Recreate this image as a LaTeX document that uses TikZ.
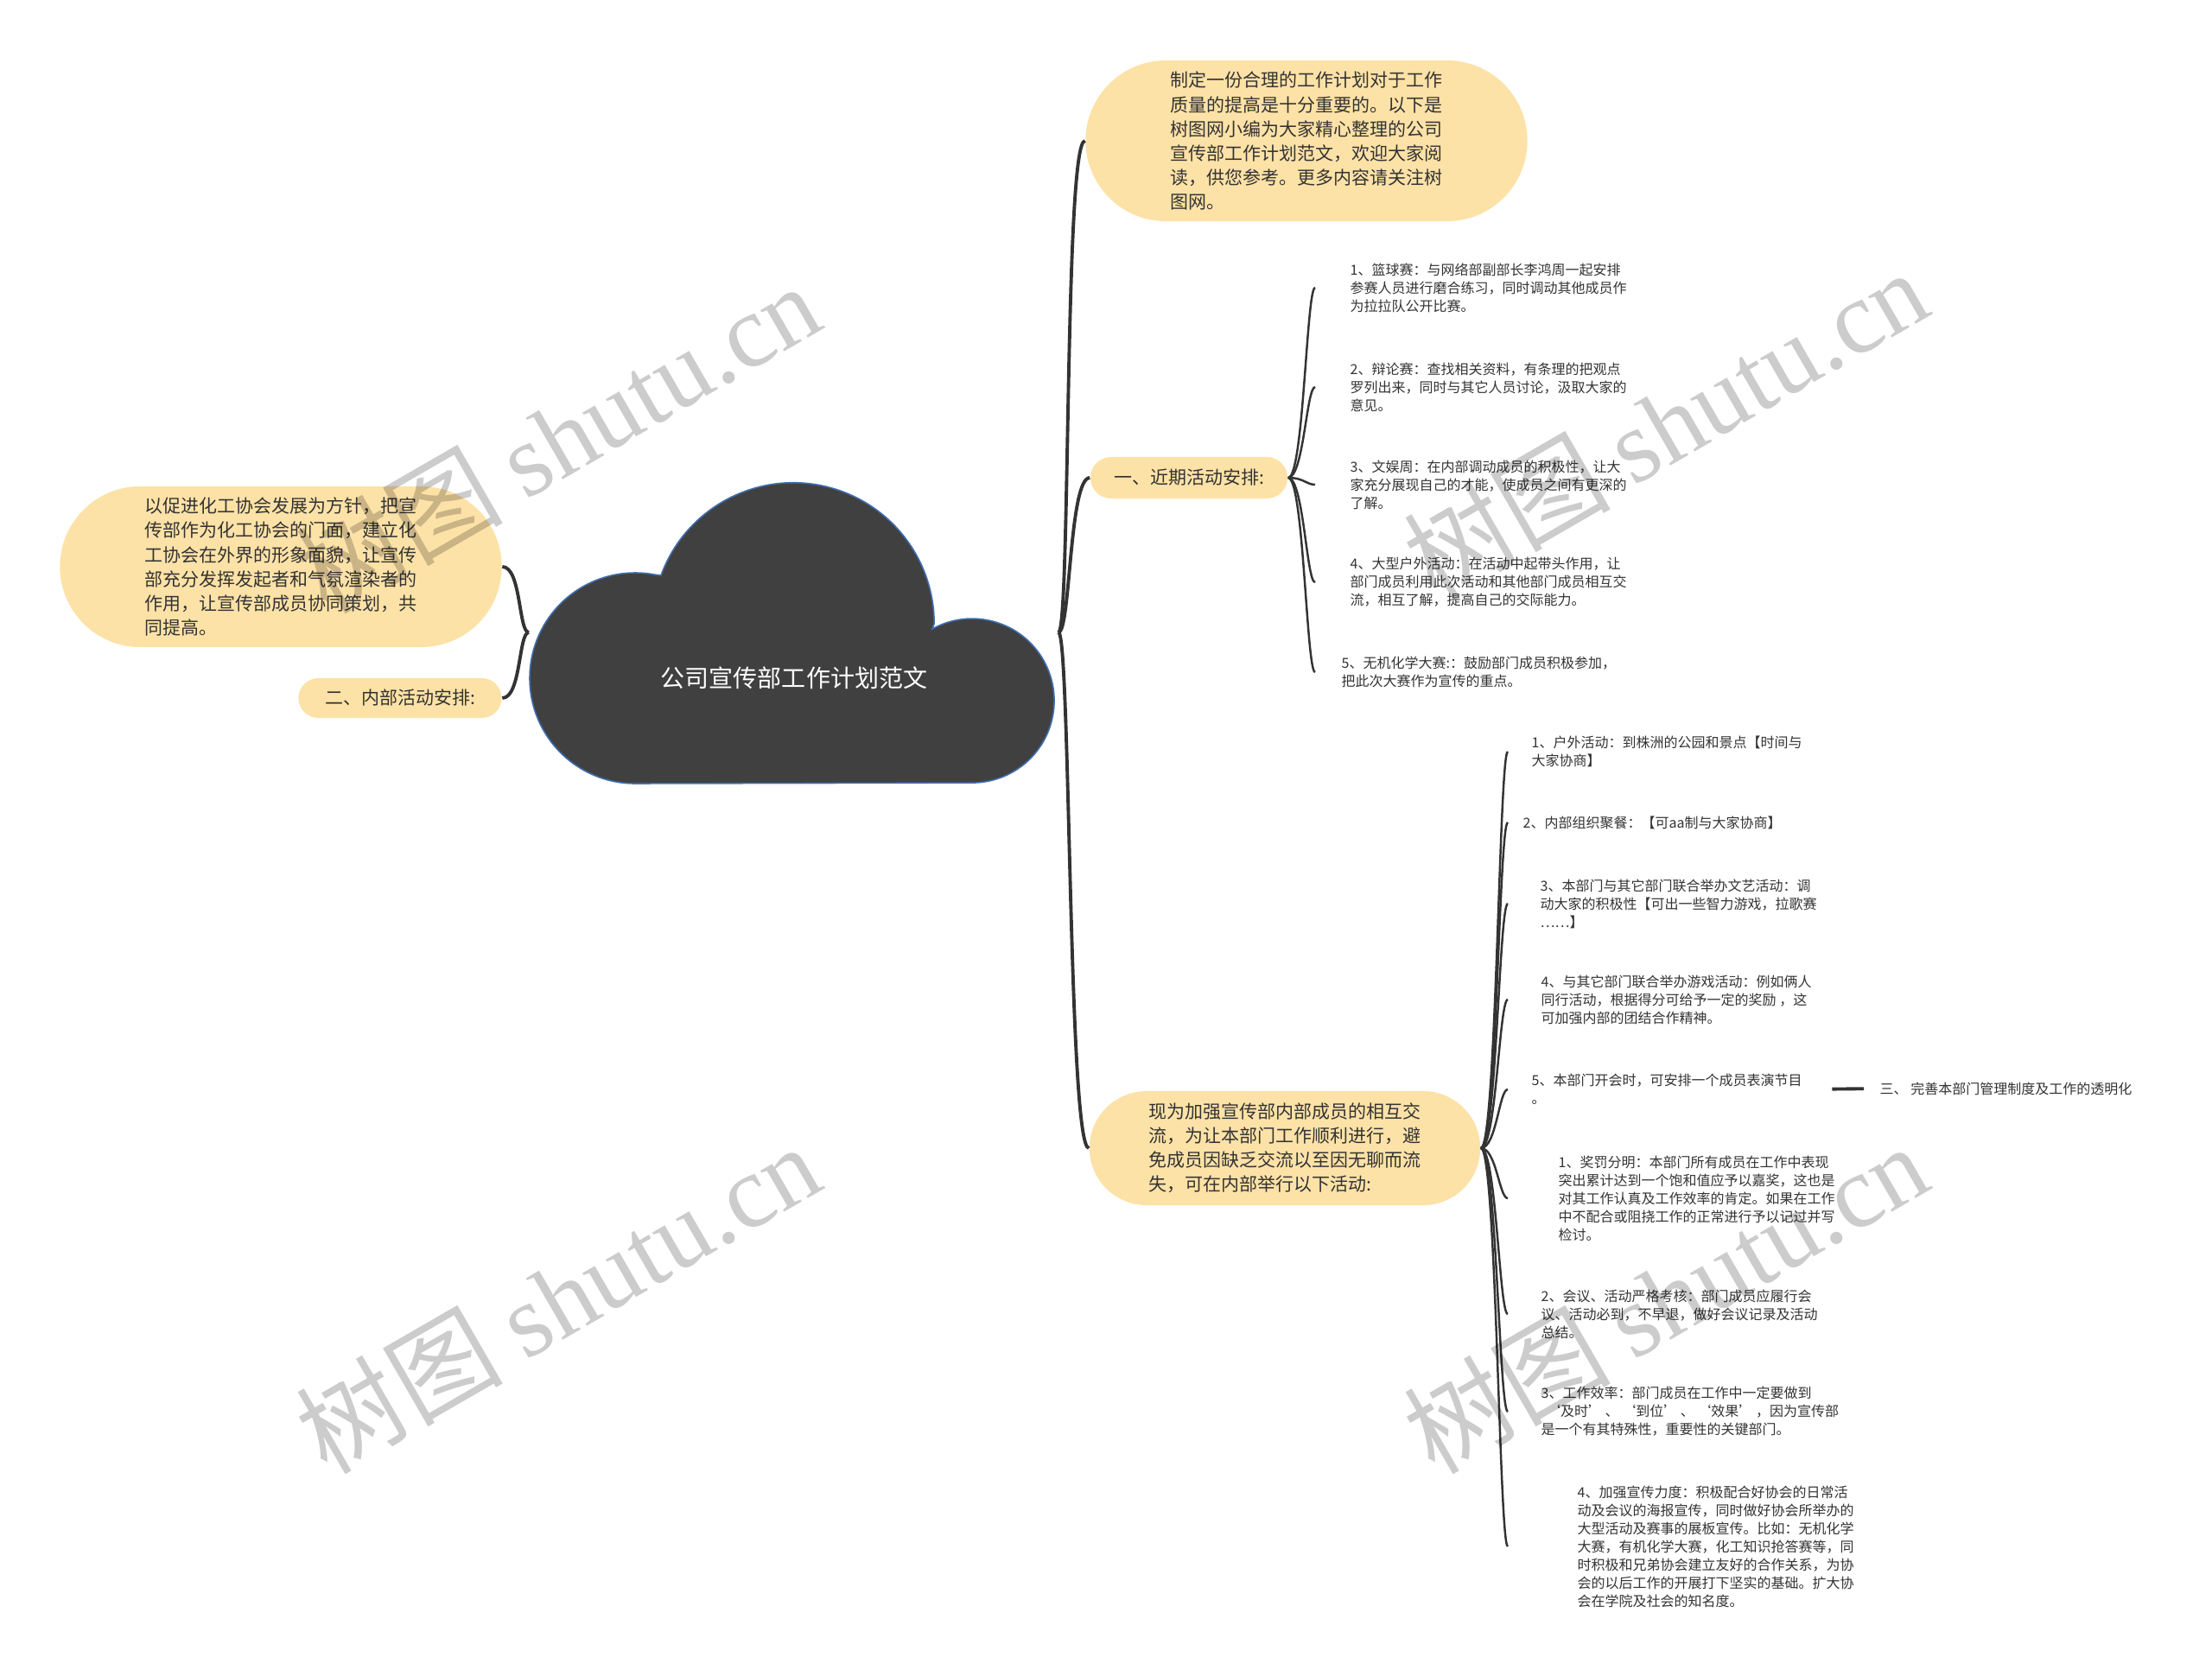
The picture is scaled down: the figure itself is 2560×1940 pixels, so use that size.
\documentclass[tikz,border=0pt]{standalone}
\usepackage{fontspec}
\setmainfont{Noto Sans CJK SC}
\newfontfamily\wmserif{Liberation Serif}
\usetikzlibrary{shapes.misc}

\definecolor{bubblefill}{HTML}{FDE2A7}
\definecolor{cloudfill}{HTML}{404040}
\definecolor{cloudline}{HTML}{3F6EAE}
\definecolor{linkcol}{HTML}{333333}
\definecolor{textcol}{HTML}{333333}

\newcommand\bubblefont{\fontsize{5.97}{7.97}\selectfont}
\newcommand\leaffont{\fontsize{4.55}{5.97}\selectfont}
\newcommand\rootfont{\fontsize{7.97}{9}\selectfont}

\tikzset{
  bubble/.style={rounded rectangle, fill=bubblefill, inner sep=0pt, align=left, text=textcol, font=\bubblefont},
  leaf/.style={anchor=west, inner sep=0pt, align=left, text=textcol, font=\leaffont},
  link/.style={draw=linkcol, line width=1.1pt},
  twig/.style={draw=linkcol, line width=0.7pt},
  watermark/.style={rotate=30, text=black, text opacity=0.2, font=\fontsize{34}{34}\selectfont}
}

\begin{document}
\begin{tikzpicture}[x=0.01cm,y=-0.01cm]

\useasboundingbox (0,0) rectangle (2560,1940);
\fill[white] (0,0) rectangle (2560,1940);

% Cloud
\draw[fill=cloudfill, draw=cloudline, line width=0.45pt]
  (735,907) arc[start angle=90, end angle=281, radius=122]
  -- (765,666) arc[start angle=200, end angle=360, radius=163]
  -- (1079,728) arc[start angle=241, end angle=450, radius=95]
  -- cycle;
\node[text=white, font=\rootfont] (root) at (919,785) {公司宣传部工作计划范文};

% Junctions
\coordinate (rj) at (1225,732);
\coordinate (lj) at (612,732);

% Main bubbles
\node[bubble, minimum width=5.11cm, minimum height=1.86cm] (intro) at (1512,163)
  {制定一份合理的工作计划对于工作\\质量的提高是十分重要的。以下是\\树图网小编为大家精心整理的公司\\宣传部工作计划范文，欢迎大家阅\\读，供您参考。更多内容请关注树\\图网。};
\node[bubble, minimum width=2.28cm, minimum height=0.48cm] (near) at (1376,553)
  {一、近期活动安排:};
\node[bubble, minimum width=4.52cm, minimum height=1.32cm] (inner) at (1487,1329)
  {现为加强宣传部内部成员的相互交\\流，为让本部门工作顺利进行，避\\免成员因缺乏交流以至因无聊而流\\失，可在内部举行以下活动:};
\node[bubble, minimum width=5.11cm, minimum height=1.86cm] (aim) at (325,656)
  {以促进化工协会发展为方针，把宣\\传部作为化工协会的门面，建立化\\工协会在外界的形象面貌，让宣传\\部充分发挥发起者和气氛渲染者的\\作用，让宣传部成员协同策划，共\\同提高。};
\node[bubble, minimum width=2.35cm, minimum height=0.46cm] (second) at (463,808)
  {二、内部活动安排:};

% Recent activities
\node[leaf] (a1) at (1562,333) {1、篮球赛：与网络部副部长李鸿周一起安排\\参赛人员进行磨合练习，同时调动其他成员作\\为拉拉队公开比赛。};
\node[leaf] (a2) at (1562,448) {2、辩论赛：查找相关资料，有条理的把观点\\罗列出来，同时与其它人员讨论，汲取大家的\\意见。};
\node[leaf] (a3) at (1562,561) {3、文娱周：在内部调动成员的积极性，让大\\家充分展现自己的才能，使成员之间有更深的\\了解。};
\node[leaf] (a4) at (1562,674) {4、大型户外活动：在活动中起带头作用，让\\部门成员利用此次活动和其他部门成员相互交\\流，相互了解，提高自己的交际能力。};
\node[leaf] (a5) at (1552,778) {5、无机化学大赛:：鼓励部门成员积极参加，\\把此次大赛作为宣传的重点。};

% Internal activities
\node[leaf] (b1) at (1772,870) {1、户外活动：到株洲的公园和景点【时间与\\大家协商】};
\node[leaf] (b2) at (1762,952) {2、内部组织聚餐：【可aa制与大家协商】};
\node[leaf] (b3) at (1782,1046) {3、本部门与其它部门联合举办文艺活动：调\\动大家的积极性【可出一些智力游戏，拉歌赛\\……】};
\node[leaf] (b4) at (1783,1157) {4、与其它部门联合举办游戏活动：例如俩人\\同行活动，根据得分可给予一定的奖励 ，这\\可加强内部的团结合作精神。};
\node[leaf] (b5) at (1772,1261) {5、本部门开会时，可安排一个成员表演节目\\。};
\node[leaf] (b6) at (1803,1387) {1、奖罚分明：本部门所有成员在工作中表现\\突出累计达到一个饱和值应予以嘉奖，这也是\\对其工作认真及工作效率的肯定。如果在工作\\中不配合或阻挠工作的正常进行予以记过并写\\检讨。};
\node[leaf] (b7) at (1783,1521) {2、会议、活动严格考核：部门成员应履行会\\议、活动必到，不早退，做好会议记录及活动\\总结。};
\node[leaf] (b8) at (1783,1634) {3、工作效率：部门成员在工作中一定要做到\\\hspace{0.4em}‘及时’~、~‘到位’~、~‘效果’~，因为宣传部\\是一个有其特殊性，重要性的关键部门。};
\node[leaf] (b9) at (1825,1790) {4、加强宣传力度：积极配合好协会的日常活\\动及会议的海报宣传，同时做好协会所举办的\\大型活动及赛事的展板宣传。比如：无机化学\\大赛，有机化学大赛，化工知识抢答赛等，同\\时积极和兄弟协会建立友好的合作关系，为协\\会的以后工作的开展打下坚实的基础。扩大协\\会在学院及社会的知名度。};
\node[leaf] (c1) at (2175,1260) {三、 完善本部门管理制度及工作的透明化};

% Connectors
\coordinate (nearx) at (1522,0);
\coordinate (innerx) at (1745,0);
\foreach \n in {intro,near,inner}
  \draw[link] (rj) .. controls +(14,0) and +(-24,0) .. (\n.west);
\foreach \n in {aim,second}
  \draw[link] (lj) .. controls +(-12,0) and +(22,0) .. (\n.east);
\foreach \i in {1,...,5}
  \draw[twig] (near.east) .. controls +(18,0) and +(-10,0) .. (a\i.west -| nearx);
\foreach \i in {1,...,9}
  \draw[twig] (inner.east) .. controls +(18,0) and +(-10,0) .. (b\i.west -| innerx);
\draw[link, shorten <=0.34cm, shorten >=0.18cm] (b5.east) -- (c1.west);

% Watermarks
\node[watermark] (wm1) at (645,506) {树图 {\wmserif shutu.cn}};
\node[watermark] (wm2) at (1927,490) {树图 {\wmserif shutu.cn}};
\node[watermark] (wm3) at (645,1502) {树图 {\wmserif shutu.cn}};
\node[watermark] (wm4) at (1927,1502) {树图 {\wmserif shutu.cn}};

\end{tikzpicture}
\end{document}
